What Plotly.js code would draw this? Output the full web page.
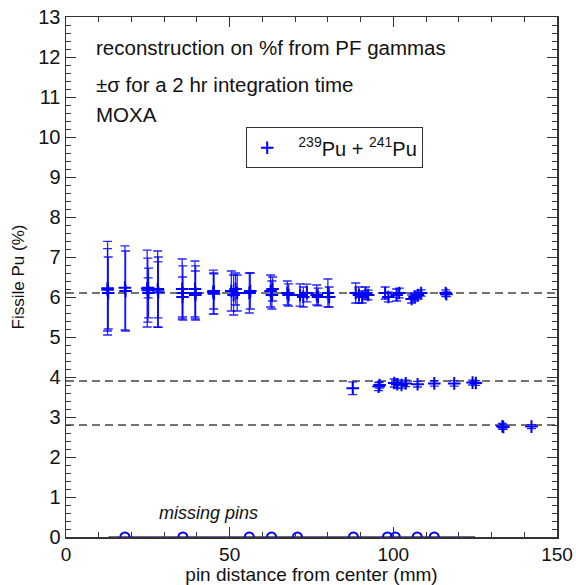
<!DOCTYPE html>
<html>
<head>
<meta charset="utf-8">
<script src="https://cdn.plot.ly/plotly-2.35.2.min.js"></script>
<style>
html,body{margin:0;padding:0;background:#fff;}
#chart{width:576px;height:585px;}
</style>
</head>
<body>
<div id="chart"></div>
<script>
// measured pins: distance from center (mm), fissile Pu (%), ±sigma
const pinX = [12.7,12.7,12.9, 18.0,18.2, 24.8,25.0,25.2,25.1, 28.0,28.2,28.1,
  35.5,35.7,35.6, 39.4,39.6,39.5, 45.0,45.2,45.1, 50.5,51.2,51.8,52.3,
  56.0,56.3, 62.5,62.9,63.1, 67.6,68.0, 71.5,72.5,73.6, 76.6,77.0, 80.0,80.4,
  88.5,89.5,90.5,91.5,92.3, 97.5,98.5,101.0,101.8, 105.6,106.5,107.5,108.5, 116.0,116.2,
  87.6, 95.5,95.8, 100.3,101.2,102.5,103.8, 107.4, 112.5, 118.6, 124.2,125.2,
  133.3,133.6, 142.2];
const pinY = [6.22,6.18,6.10, 6.23,6.15, 6.21,6.17,6.10,6.23, 6.20,6.12,6.18,
  6.20,6.10,6.00, 6.20,6.10,6.05, 6.12,6.08,6.15, 6.15,6.05,6.20,6.10,
  6.10,6.15, 6.15,6.05,6.20, 6.10,6.05, 6.05,6.00,6.10, 6.05,6.00, 6.10,6.00,
  6.10,6.05,6.00,6.10,6.05, 6.10,6.00,6.05,6.10, 5.95,6.00,6.05,6.10, 6.10,6.07,
  3.72, 3.76,3.80, 3.85,3.82,3.80,3.84, 3.82, 3.84, 3.84, 3.86,3.85,
  2.77,2.75, 2.76];
const pinErr = [1.17,1.03,0.90, 1.05,1.00, 0.96,0.80,0.62,0.25, 0.95,0.88,0.70,
  0.75,0.68,0.50, 0.70,0.68,0.60, 0.55,0.50,0.45, 0.50,0.50,0.40,0.45,
  0.50,0.45, 0.40,0.35,0.30, 0.30,0.28, 0.28,0.25,0.22, 0.25,0.22, 0.35,0.25,
  0.25,0.20,0.15,0.15,0.12, 0.15,0.12,0.15,0.12, 0.10,0.10,0.10,0.08, 0.08,0.06,
  0.16, 0.10,0.08, 0.10,0.10,0.08,0.08, 0.07, 0.07, 0.07, 0.06,0.06,
  0.07,0.06, 0.05];
// missing pins
const missX = [18.0, 35.7, 56.0, 62.8, 70.7, 87.8, 98.2, 100.6, 107.3, 112.5];
const missY = [0,0,0,0,0,0,0,0,0,0];
const missLineX = [13, 125];
const missLineY = [0, 0];
// reference levels
const refLevels = [6.1, 3.9, 2.8];
const refX = [0, 150];
const xTicks = [0, 50, 100, 150];
const yTicks = [0,1,2,3,4,5,6,7,8,9,10,11,12,13];

const FONT = "Liberation Sans, Arial, Helvetica, sans-serif";
const traces = [];
refLevels.forEach(v => {
  traces.push({x: refX, y: [v, v], mode: 'lines', showlegend: false, hoverinfo: 'skip',
    line: {color: '#444', width: 1.5, dash: '8px,5px'}});
});
traces.push({x: missLineX, y: missLineY, mode: 'lines', showlegend: false,
  line: {color: '#4a2a78', width: 1.5}});
traces.push({x: missX, y: missY, mode: 'markers', showlegend: false,
  marker: {symbol: 'circle-open', size: 9, color: 'blue', line: {color: 'blue', width: 2}}});
traces.push({x: pinX, y: pinY, mode: 'markers', name: '\u00a0\u00a0<sup>239</sup>Pu + <sup>241</sup>Pu',
  marker: {symbol: 'cross-thin-open', size: 9, color: 'blue', line: {color: 'blue', width: 2}},
  error_y: {type: 'data', array: pinErr, visible: true, color: 'rgba(0,0,255,0.85)', thickness: 1.3, width: 4.5}});

const layout = {
  width: 576, height: 585,
  margin: {l: 66, r: 19, t: 17, b: 48},
  paper_bgcolor: '#fff', plot_bgcolor: '#fff',
  font: {family: FONT, color: '#111', size: 18},
  showlegend: true,
  legend: {x: 0.367, y: 0.788, xanchor: 'left', yanchor: 'top', bgcolor: '#fff',
    bordercolor: '#333', borderwidth: 1, font: {family: FONT, size: 20, color: '#111'}},
  xaxis: {range: [0, 150], tickvals: xTicks, ticktext: xTicks.map(String), ticks: 'inside', ticklen: 10,
    tickcolor: '#333', showline: true, linecolor: '#333', linewidth: 1.5, mirror: 'ticks', showgrid: false,
    zeroline: false, tickfont: {size: 19},
    minor: {ticks: 'inside', dtick: 10, ticklen: 5, tickcolor: '#333', showgrid: false},
    title: {text: 'pin distance from center (mm)', font: {size: 19}, standoff: 3}},
  yaxis: {range: [0, 13], tickvals: yTicks, ticktext: yTicks.map(String), ticks: 'inside', ticklen: 10,
    tickcolor: '#333', showline: true, linecolor: '#333', linewidth: 1.5, mirror: 'ticks', showgrid: false,
    zeroline: false, tickfont: {size: 20},
    minor: {ticks: 'inside', dtick: 0.2, ticklen: 5, tickcolor: '#333', showgrid: false},
    title: {text: 'Fissile Pu (%)', font: {size: 17}, standoff: 9}},
  annotations: [
    {xref: 'paper', yref: 'paper', x: 0.057, y: 0.942, xanchor: 'left', yanchor: 'middle', showarrow: false,
      text: 'reconstruction on %f from PF gammas', font: {size: 20.5}},
    {xref: 'paper', yref: 'paper', x: 0.057, y: 0.871, xanchor: 'left', yanchor: 'middle', showarrow: false,
      text: '±σ for a 2 hr integration time', font: {size: 20.5}},
    {xref: 'paper', yref: 'paper', x: 0.057, y: 0.813, xanchor: 'left', yanchor: 'middle', showarrow: false,
      text: 'MOXA', font: {size: 20.5}},
    {xref: 'x', yref: 'y', x: 43.4, y: 0.6, xanchor: 'center', yanchor: 'middle', showarrow: false,
      text: '<i>missing pins</i>', font: {size: 18}}
  ]
};
Plotly.newPlot('chart', traces, layout, {staticPlot: true, displayModeBar: false});
</script>
</body>
</html>
